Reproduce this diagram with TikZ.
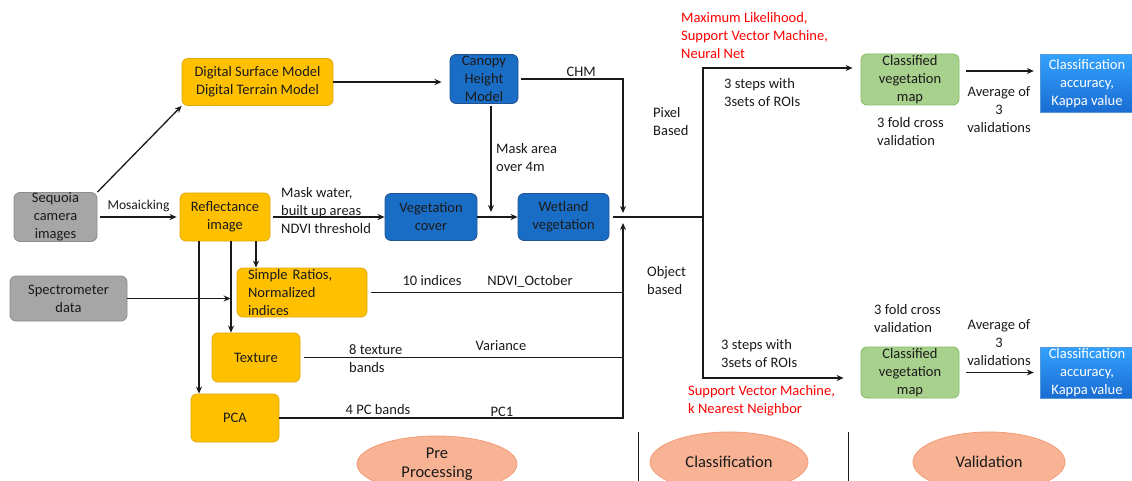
\documentclass[tikz,border=0pt]{standalone}
\usepackage{fontspec}
\setmainfont{Carlito}
\usetikzlibrary{shapes.geometric,arrows.meta}
\definecolor{orng}{HTML}{FFC000}
\definecolor{orngd}{HTML}{E0A800}
\definecolor{gry}{HTML}{A6A6A6}
\definecolor{gryd}{HTML}{8C8C8C}
\definecolor{blu}{HTML}{1A6DC4}
\definecolor{blud}{HTML}{22528F}
\definecolor{grn}{HTML}{A9D18E}
\definecolor{grnd}{HTML}{82BC62}
\definecolor{salm}{HTML}{F8B294}
\definecolor{salmd}{HTML}{F29C78}
\definecolor{txt}{HTML}{1A1A1A}
\tikzset{
  box/.style={rounded corners=6pt, inner sep=0pt, align=center, line width=0.8pt, text=txt},
  graybox/.style={box, fill=gry, draw=gryd},
  orangebox/.style={box, fill=orng, draw=orngd},
  bluebox/.style={box, fill=blu, draw=blud},
  greenbox/.style={box, fill=grn, draw=grnd},
  accbox/.style={inner sep=0pt, align=center, text=white, top color=blue!10!cyan!60!blue!80, bottom color=blue!55!cyan!80!black!90, draw=cyan!60!blue!70},
  phase/.style={ellipse, fill=salm, draw=salmd, line width=0.8pt, align=center, inner sep=0pt, text=txt, font=\fontsize{16.5}{18.5}\selectfont},
  lbl/.style={align=left, inner sep=0pt, text=txt},
  redlbl/.style={lbl, text=red},
  arr/.style={-{Stealth[length=7pt,width=6pt]}, line width=1.3pt, txt},
  ln/.style={line width=1.3pt, txt}
}
\begin{document}
\begin{tikzpicture}[x=1pt, y=-1pt, font=\fontsize{14.5}{18}\selectfont]
  \useasboundingbox (0,0) rectangle (1132,481);
  \clip (0,0) rectangle (1132,481);
  \node[graybox, minimum width=83pt, minimum height=49pt] (seq) at (55.5,217) {Sequoia\\camera\\images};
  \node[orangebox, minimum width=151pt, minimum height=47pt] (dsm) at (257.5,82) {Digital Surface Model\\Digital Terrain Model};
  \node[orangebox, minimum width=90pt, minimum height=48pt] (refl) at (225,217) {Reflectance\\image};
  \node[bluebox, minimum width=68pt, minimum height=49pt] (chm) at (484,79) {Canopy\\Height\\Model};
  \node[bluebox, minimum width=92pt, minimum height=47pt] (vegc) at (431,217) {Vegetation\\cover};
  \node[bluebox, minimum width=91pt, minimum height=47pt] (wet) at (563.5,217) {Wetland\\vegetation};
  \node[graybox, minimum width=117pt, minimum height=45pt] (spec) at (68.5,298.5) {Spectrometer\\data};
  \node[orangebox, minimum width=130pt, minimum height=49pt, text width=108pt, align=left] (ratio) at (302,292.5) {Simple Ratios,\\Normalized\\indices};
  \node[orangebox, minimum width=88pt, minimum height=49pt] (tex) at (256,357.5) {Texture};
  \node[orangebox, minimum width=88pt, minimum height=48pt] (pca) at (235,418) {PCA};
  \node[greenbox, minimum width=98pt, minimum height=51pt] (cls1) at (910,79.5) {Classified\\vegetation\\map};
  \node[greenbox, minimum width=98pt, minimum height=51pt] (cls2) at (910,372.5) {Classified\\vegetation\\map};
  \node[accbox, minimum width=94pt, minimum height=58pt] (acc1) at (1087,83.5) {Classification\\accuracy,\\Kappa value};
  \node[accbox, minimum width=94pt, minimum height=51pt] (acc2) at (1087,372.5) {Classification\\accuracy,\\Kappa value};
  \node[phase, minimum width=160pt, minimum height=56pt] (pre) at (437,464) {Pre\\Processing};
  \node[phase, minimum width=158pt, minimum height=60pt] (cls) at (729,462) {Classification};
  \node[phase, minimum width=152pt, minimum height=60pt] (val) at (989,462) {Validation};
  \coordinate (j) at (623,218);
  \coordinate (split) at (703,218);
  \coordinate (m) at (491,217);
  \draw[arr] (seq.north east) -- (dsm.south west);
  \draw[arr, shorten <=3pt, shorten >=3pt] (seq.east) -- node[lbl, above=5pt, font=\fontsize{13.5}{16}\selectfont] (lblmos) {Mosaicking} (seq.east -| refl.west);
  \draw[arr, shorten <=3pt] (refl.east) -- (refl.east -| vegc.west);
  \node[lbl, anchor=west] (lblmask) at (281,211) {Mask water,\\built up areas\\NDVI threshold};
  \draw[arr, shorten >=8pt] (dsm.east) -- (dsm.east -| chm.west);
  \draw[arr, shorten <=3pt, shorten >=5pt] (chm.east) -| node[lbl, pos=0.3, above=2pt] (lblchm) {CHM} (j);
  \draw[arr, shorten <=2pt, shorten >=5pt] ([xshift=7pt]chm.south) -- (m);
  \node[lbl, anchor=west] (lblarea) at (496,158) {Mask area\\over 4m};
  \draw[arr] (vegc.east) -- (wet.west);
  \draw[ln, shorten <=4pt] (wet.east) -- (wet.east -| split);
  \draw[arr] ([xshift=-26pt]refl.south) -- ([xshift=-26pt]refl.south |- pca.north);
  \draw[arr] ([xshift=6pt]refl.south) -- ([xshift=6pt]refl.south |- tex.north);
  \draw[arr] ([xshift=31pt]refl.south) -- ([xshift=31pt]refl.south |- ratio.north);
  \draw[arr, shorten >=6pt] (spec.east) -- (spec.east -| ratio.west);
  \draw[ln, shorten <=4pt] (ratio.east) -- (ratio.east -| j);
  \draw[ln, shorten <=4pt] (tex.east) -- (tex.east -| j);
  \draw[arr, shorten >=5pt] (pca.east) -| (j);
  \node[lbl] (lblten) at (432,281) {10 indices};
  \node[lbl] (lblndvi) at (530,281) {NDVI\_October};
  \node[lbl, anchor=west] (lbleight) at (349,359) {8 texture\\bands};
  \node[lbl] (lblvar) at (501,346) {Variance};
  \node[lbl] (lblfour) at (378,410) {4 PC bands};
  \node[lbl] (lblpc) at (502,412) {PC1};
  \node[lbl, anchor=west] (lblpix) at (653,122) {Pixel\\Based};
  \node[lbl, anchor=west] (lblobj) at (647,281) {Object\\based};
  \draw[arr, shorten >=8pt] (split) |- ([yshift=11.5pt]cls1.west);
  \draw[arr, shorten >=17pt] (split) |- ([yshift=-5.5pt]cls2.west);
  \node[redlbl, anchor=west] (lblml) at (681,35.5) {Maximum Likelihood,\\Support Vector Machine,\\Neural Net};
  \node[redlbl, anchor=west] (lblsvm) at (688,400.5) {Support Vector Machine,\\k Nearest Neighbor};
  \node[lbl, anchor=west] (lblst1) at (724,92.5) {3 steps with\\3sets of ROIs};
  \node[lbl, anchor=west] (lblst2) at (721,353.5) {3 steps with\\3sets of ROIs};
  \node[lbl, anchor=west] (lblcv1) at (877,132) {3 fold cross\\validation};
  \node[lbl, anchor=west] (lblcv2) at (874,318.5) {3 fold cross\\validation};
  \draw[arr, shorten <=7pt, shorten >=6pt] ([yshift=8.5pt]cls1.east) -- ([yshift=8.5pt]cls1.east -| acc1.west);
  \draw[arr, shorten <=7pt, shorten >=6pt] (cls2.east) -- (cls2.east -| acc2.west);
  \node[lbl, align=center] (lblavg1) at (999,110) {Average of\\3\\validations};
  \node[lbl, align=center] (lblavg2) at (999,342.5) {Average of\\3\\validations};
  \draw[line width=1pt, txt] (638,432) -- (638,481);
  \draw[line width=1pt, txt] (848,432) -- (848,481);
\end{tikzpicture}
\end{document}
